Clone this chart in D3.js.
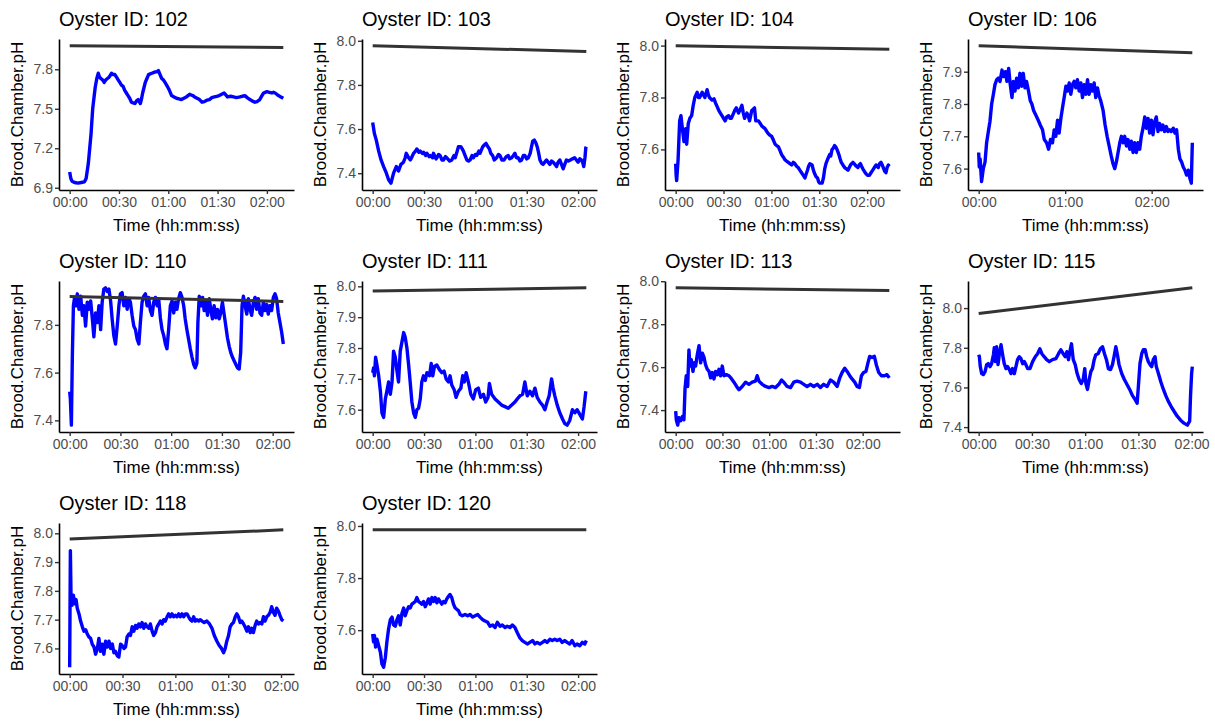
<!DOCTYPE html>
<html>
<head>
<meta charset="utf-8">
<script src="https://cdn.jsdelivr.net/npm/d3@7"></script>
<style>
  body { margin: 0; background: #fff; }
  text { font-family: "Liberation Sans", Arial, sans-serif; }
</style>
</head>
<body>
<svg id="chart" width="1215" height="722"></svg>
<script>
// Brood chamber pH per oyster: [elapsed minutes, pH]
const ph102 = [[0,7.02],[0.7,6.97],[1.4,6.95],[3,6.94],[5,6.935],[7,6.94],[9,6.945],[10,6.97],[11.3,7.08],[12.2,7.2],[13,7.31],[14,7.5],[15.5,7.66],[16.5,7.73],[17.4,7.77],[18.2,7.74],[19,7.73],[20,7.72],[21,7.70],[22,7.72],[23,7.73],[24,7.74],[25.5,7.77],[26.5,7.76],[27.5,7.76],[28.5,7.74],[29.5,7.72],[30.5,7.70],[31.5,7.68],[32.5,7.67],[33.5,7.64],[34.5,7.62],[35.5,7.60],[36.5,7.58],[37.6,7.55],[38.6,7.545],[39.7,7.54],[40.7,7.56],[41.7,7.57],[42.5,7.55],[43,7.54],[43.8,7.58],[44.4,7.62],[45.2,7.66],[46,7.70],[47,7.73],[48,7.76],[49,7.765],[50,7.77],[51,7.775],[52,7.78],[53,7.78],[54,7.79],[55,7.76],[56,7.73],[57,7.72],[58,7.70],[59,7.68],[60.3,7.65],[61,7.63],[62,7.60],[63.5,7.59],[65,7.58],[66.5,7.575],[68,7.57],[69.5,7.58],[71,7.59],[72,7.60],[73,7.61],[74,7.605],[75,7.60],[76,7.59],[77.5,7.58],[79,7.57],[80.5,7.55],[82,7.555],[83.5,7.565],[85,7.57],[86.5,7.585],[88,7.59],[89.5,7.595],[91,7.60],[92.5,7.61],[94,7.62],[95,7.605],[96,7.59],[98,7.595],[99.7,7.59],[101.5,7.585],[103.6,7.59],[105,7.595],[106.6,7.60],[108,7.585],[109.7,7.57],[111,7.56],[112.7,7.55],[114,7.555],[115.7,7.57],[117,7.60],[118,7.62],[119,7.625],[120,7.63],[121.5,7.625],[123,7.62],[124,7.625],[125,7.62],[126,7.61],[127,7.60],[128.5,7.59],[130,7.58]];
const ph103 = [[0,7.63],[1,7.58],[2.1,7.55],[3.5,7.50],[4.9,7.46],[6.4,7.43],[8,7.40],[9.3,7.37],[10.7,7.355],[11.5,7.38],[12.2,7.40],[13.8,7.43],[15.1,7.41],[16.5,7.44],[18,7.45],[19,7.47],[19.6,7.49],[21,7.47],[22,7.46],[23,7.475],[23.9,7.49],[25,7.50],[25.8,7.51],[27,7.495],[27.8,7.50],[29,7.49],[29.7,7.495],[31,7.48],[31.7,7.49],[33,7.475],[33.6,7.48],[35,7.47],[35.5,7.49],[37,7.465],[37.5,7.47],[38.5,7.485],[39.4,7.48],[40.5,7.46],[41.4,7.46],[42.5,7.475],[43.3,7.47],[45,7.455],[46.2,7.46],[47.5,7.48],[48.2,7.47],[49,7.49],[50.1,7.52],[51.5,7.52],[52.3,7.51],[53,7.50],[54,7.48],[55,7.46],[56,7.455],[56.9,7.46],[58,7.48],[58.8,7.47],[60,7.485],[60.8,7.48],[62,7.50],[62.7,7.49],[64.3,7.52],[65.5,7.53],[66.2,7.535],[67.3,7.52],[68.2,7.51],[69,7.49],[70.1,7.48],[71,7.46],[72.4,7.47],[73.5,7.485],[74.4,7.48],[75.5,7.46],[76.7,7.46],[78,7.475],[79.2,7.48],[80,7.465],[81.2,7.47],[82.2,7.48],[83.1,7.49],[84,7.47],[85,7.47],[86,7.455],[87,7.46],[88,7.48],[88.9,7.48],[90,7.465],[90.9,7.47],[92,7.49],[92.8,7.52],[93.5,7.545],[94.4,7.55],[95.2,7.54],[96.1,7.52],[97,7.49],[97.7,7.46],[98.7,7.445],[99.6,7.44],[100.5,7.45],[101.6,7.46],[102.5,7.45],[103.5,7.44],[104.5,7.455],[105.4,7.45],[106.5,7.44],[107.4,7.43],[108.3,7.45],[109.3,7.46],[110.3,7.44],[111.3,7.42],[112.2,7.44],[113.2,7.46],[114.3,7.455],[115.5,7.46],[116.7,7.465],[118,7.47],[119,7.46],[120,7.45],[121,7.465],[121.9,7.46],[122.6,7.45],[123.3,7.43],[124,7.47],[124.5,7.515],[124.8,7.52]];
const ph104 = [[0,7.545],[0.3,7.50],[0.6,7.48],[1.5,7.56],[2.5,7.71],[3.3,7.73],[4.2,7.68],[5.2,7.63],[5.8,7.65],[6.2,7.68],[6.9,7.62],[7.9,7.70],[8.9,7.72],[10,7.73],[11,7.77],[12,7.80],[13.5,7.82],[14.3,7.80],[15,7.80],[15.8,7.81],[16.6,7.82],[17.5,7.81],[18.3,7.80],[19,7.815],[19.7,7.83],[20.5,7.81],[21.2,7.80],[22.8,7.79],[24,7.795],[24.9,7.78],[26,7.765],[27,7.75],[28,7.74],[29,7.73],[30,7.72],[31,7.71],[32,7.725],[33.2,7.73],[34,7.72],[34.9,7.72],[36.3,7.74],[37,7.75],[38,7.76],[39.4,7.74],[40.5,7.755],[41.5,7.77],[42.4,7.74],[43.2,7.72],[44.6,7.74],[45.5,7.73],[46.3,7.71],[47.7,7.75],[48.6,7.755],[49.4,7.76],[50.2,7.71],[51.9,7.71],[53,7.70],[54,7.69],[55,7.685],[56,7.68],[57,7.67],[58.1,7.66],[59,7.655],[60.2,7.65],[61.3,7.635],[62.3,7.62],[63.3,7.615],[64.4,7.61],[65.4,7.595],[66.4,7.58],[67.5,7.57],[68.5,7.56],[69.5,7.555],[70.6,7.55],[71.6,7.545],[72.7,7.54],[73.7,7.55],[74.7,7.545],[75.8,7.535],[76.8,7.53],[77.8,7.52],[78.9,7.51],[80,7.50],[81,7.49],[81.8,7.505],[82.6,7.52],[83.3,7.535],[84.1,7.545],[85.5,7.54],[86.3,7.52],[87.2,7.505],[88,7.495],[88.9,7.49],[89.6,7.475],[90.3,7.47],[91.8,7.47],[92.6,7.49],[93.4,7.525],[94.2,7.545],[95.1,7.56],[96.5,7.58],[97.2,7.575],[98,7.60],[98.8,7.605],[99.6,7.615],[100.3,7.61],[101.1,7.60],[102.3,7.58],[103,7.565],[103.8,7.55],[104.8,7.54],[105.9,7.53],[107,7.525],[108,7.52],[108.8,7.53],[109.6,7.54],[110.3,7.545],[111.1,7.55],[112.5,7.54],[113.3,7.535],[114.2,7.53],[115,7.54],[115.8,7.545],[116.5,7.535],[117.3,7.525],[118.3,7.515],[119.4,7.505],[120.4,7.50],[121.4,7.50],[122.4,7.51],[123.5,7.52],[124.5,7.53],[125.6,7.54],[126.3,7.535],[127,7.53],[127.8,7.545],[128.7,7.55],[129.5,7.54],[130.4,7.525],[131.1,7.515],[131.8,7.51],[132.5,7.53],[133.3,7.54],[133.9,7.535]];
const ph106 = [[0,7.65],[0.4,7.605],[1,7.63],[2,7.56],[3.2,7.60],[4.4,7.62],[5.5,7.68],[6.9,7.72],[7.8,7.745],[9,7.80],[10.2,7.83],[11.3,7.86],[12.5,7.875],[13.6,7.88],[14.8,7.87],[16.2,7.905],[17.3,7.885],[18.5,7.90],[19.6,7.87],[20.8,7.91],[21.9,7.86],[23.1,7.82],[24,7.87],[25.2,7.84],[26.3,7.88],[27.5,7.85],[28.6,7.895],[29.8,7.855],[30.9,7.895],[32.1,7.85],[33.2,7.87],[34.6,7.84],[35.8,7.81],[36.9,7.80],[38.1,7.78],[39.7,7.765],[41.3,7.75],[42.7,7.735],[44.3,7.72],[45.5,7.69],[47.1,7.68],[48.5,7.66],[49.8,7.69],[51.2,7.68],[52.4,7.72],[53.5,7.70],[54.7,7.75],[55.8,7.71],[57,7.755],[58.2,7.79],[59.3,7.82],[60.5,7.855],[61.6,7.84],[62.8,7.865],[63.9,7.83],[65.1,7.86],[66.2,7.87],[67.4,7.85],[68.5,7.875],[69.7,7.84],[70.9,7.865],[72,7.82],[73.2,7.86],[74.3,7.83],[75.5,7.875],[76.6,7.83],[77.8,7.86],[78.9,7.84],[80.1,7.865],[81.2,7.82],[82.4,7.85],[83.5,7.825],[84.7,7.81],[86.3,7.78],[87.7,7.735],[89.1,7.70],[90.5,7.67],[91.9,7.64],[93.2,7.615],[94.4,7.60],[95.5,7.62],[96.7,7.65],[97.9,7.68],[99,7.70],[100.2,7.68],[101.3,7.70],[102.5,7.67],[103.6,7.69],[104.8,7.66],[105.9,7.685],[107.1,7.65],[108.2,7.68],[109.4,7.65],[110.5,7.68],[111.7,7.66],[112.8,7.70],[114,7.725],[115.2,7.76],[116.3,7.725],[117.5,7.755],[118.6,7.71],[119.8,7.75],[120.9,7.705],[122.1,7.745],[123.2,7.76],[124.4,7.715],[125.5,7.74],[126.7,7.72],[127.8,7.735],[129,7.715],[130.2,7.73],[131.3,7.715],[132.5,7.72],[133.6,7.715],[135,7.725],[136.2,7.71],[137.3,7.72],[138.5,7.66],[139.6,7.63],[140.8,7.62],[141.9,7.605],[143.1,7.595],[144.2,7.58],[145.4,7.595],[146.5,7.57],[147.5,7.555],[148.2,7.68]];
const ph110 = [[0,7.52],[0.4,7.49],[1,7.38],[1.6,7.68],[2.2,7.88],[2.9,7.915],[3.7,7.88],[4.5,7.93],[5.5,7.865],[6.5,7.92],[7.5,7.84],[8.4,7.88],[9.4,7.795],[10.4,7.895],[11.4,7.865],[12.4,7.90],[13.4,7.825],[14.3,7.75],[15.3,7.85],[16.3,7.81],[17.3,7.88],[18.3,7.78],[19.2,7.895],[20.2,7.95],[21.2,7.955],[22.2,7.94],[23.2,7.95],[24.2,7.90],[25.1,7.825],[26.1,7.755],[27.1,7.72],[28.1,7.795],[29.1,7.88],[30,7.93],[31,7.935],[32,7.88],[33,7.915],[34,7.865],[35,7.91],[35.9,7.895],[36.9,7.84],[37.9,7.795],[38.9,7.78],[39.9,7.74],[40.9,7.72],[41.8,7.81],[42.8,7.895],[43.8,7.92],[44.8,7.93],[45.8,7.88],[46.7,7.915],[47.7,7.86],[48.7,7.84],[49.7,7.895],[50.7,7.915],[51.7,7.88],[52.6,7.91],[53.6,7.83],[54.6,7.78],[55.6,7.755],[56.6,7.72],[57.5,7.70],[58.5,7.78],[59.5,7.88],[60.5,7.90],[61.5,7.85],[62.5,7.895],[63.4,7.865],[64.4,7.91],[65.4,7.935],[66.4,7.915],[67.4,7.88],[68.3,7.825],[69.3,7.78],[70.3,7.74],[71.3,7.70],[72.3,7.665],[73.3,7.635],[74.2,7.62],[75.2,7.64],[75.8,7.81],[76.6,7.92],[77.6,7.88],[78.6,7.915],[79.5,7.86],[80.5,7.895],[81.5,7.84],[82.5,7.91],[83.5,7.86],[84.4,7.825],[85.4,7.88],[86.4,7.83],[87.4,7.865],[88.4,7.825],[89.3,7.85],[90.3,7.895],[91.3,7.845],[92.3,7.795],[93.3,7.745],[94.3,7.71],[95.2,7.685],[96.2,7.665],[97.2,7.65],[98.2,7.635],[99.2,7.62],[100.2,7.615],[101.1,7.685],[101.9,7.88],[102.7,7.92],[103.7,7.88],[104.7,7.845],[105.6,7.91],[106.6,7.865],[107.6,7.84],[108.6,7.895],[109.6,7.915],[110.5,7.865],[111.5,7.91],[112.5,7.85],[113.5,7.84],[114.5,7.895],[115.5,7.86],[116.5,7.885],[117.4,7.845],[118.4,7.88],[119.4,7.86],[120.4,7.915],[121.4,7.93],[122.3,7.91],[123.3,7.85],[124.3,7.81],[125.3,7.77],[126.3,7.72]];
const ph111 = [[0,7.72],[0.5,7.735],[1,7.71],[1.7,7.77],[2.5,7.745],[3.5,7.71],[4.5,7.66],[5.4,7.59],[6.4,7.575],[7.4,7.635],[8.3,7.66],[9.3,7.69],[10.3,7.65],[11.3,7.69],[12.2,7.79],[13.2,7.77],[14.2,7.725],[15.1,7.69],[16.1,7.79],[17.1,7.82],[18.1,7.85],[19,7.835],[20,7.80],[21,7.745],[21.9,7.69],[22.9,7.625],[23.9,7.59],[24.9,7.575],[25.8,7.60],[26.8,7.605],[27.8,7.635],[28.7,7.69],[29.7,7.71],[30.7,7.695],[31.7,7.72],[33.2,7.71],[34.2,7.75],[35.1,7.71],[36.1,7.74],[37.5,7.745],[39,7.73],[40.4,7.72],[41.7,7.725],[42.9,7.70],[44.3,7.69],[45.2,7.71],[46.2,7.68],[47.6,7.665],[48.7,7.64],[50.1,7.66],[51.5,7.67],[52.6,7.71],[53.6,7.69],[54.6,7.72],[55.9,7.69],[57.3,7.65],[58.8,7.635],[60.2,7.665],[61.7,7.67],[63.1,7.64],[64.7,7.65],[66,7.625],[67.4,7.64],[68.2,7.685],[69.5,7.65],[71.5,7.635],[73.4,7.625],[75.3,7.615],[77.3,7.61],[79.2,7.605],[81.2,7.615],[83.1,7.625],[84.5,7.635],[86,7.645],[87.6,7.65],[88.9,7.69],[90.3,7.645],[91.8,7.66],[93.4,7.645],[94.8,7.67],[96.1,7.64],[97.7,7.625],[99.2,7.615],[100.6,7.60],[101.9,7.625],[103.1,7.645],[104.5,7.70],[105.4,7.67],[106.4,7.645],[107.8,7.615],[109.3,7.59],[110.9,7.57],[112.2,7.555],[113.6,7.55],[115.1,7.565],[116.7,7.60],[118.1,7.59],[119.4,7.60],[121,7.585],[122.5,7.57],[123.5,7.61],[124.5,7.66]];
const ph113 = [[0,7.395],[0.4,7.355],[1.3,7.33],[2.1,7.365],[3.2,7.35],[4.3,7.37],[5.3,7.355],[6,7.50],[6.8,7.56],[7.7,7.51],[8.5,7.68],[9.2,7.605],[10,7.635],[11.1,7.58],[12,7.62],[12.8,7.605],[13.9,7.66],[15,7.70],[16,7.62],[17.1,7.665],[18.2,7.645],[19.2,7.61],[20.3,7.59],[21.4,7.58],[22.4,7.55],[23.5,7.575],[24.6,7.545],[25.6,7.58],[26.7,7.565],[27.8,7.59],[28.8,7.56],[29.9,7.605],[31,7.56],[32.5,7.565],[34.2,7.56],[35.9,7.545],[37.4,7.53],[39.1,7.51],[40.6,7.495],[42.7,7.51],[44.8,7.53],[47,7.52],[49.1,7.53],[51.2,7.535],[52.3,7.56],[53.4,7.535],[55.5,7.52],[57.7,7.51],[59.8,7.505],[61.9,7.51],[64.1,7.505],[66.2,7.52],[67.9,7.54],[69.4,7.53],[71.5,7.51],[73.7,7.505],[75.8,7.53],[77.9,7.535],[80.1,7.53],[82.2,7.52],[84.3,7.51],[86.5,7.52],[88.6,7.51],[90.8,7.52],[92.9,7.505],[95,7.52],[97.2,7.51],[99.3,7.54],[101.4,7.53],[103.6,7.51],[105.3,7.55],[106.8,7.575],[108.5,7.595],[110,7.58],[111.7,7.56],[113.2,7.545],[114.9,7.53],[116.4,7.51],[117.9,7.505],[119.2,7.56],[120.6,7.575],[122.1,7.58],[123.4,7.62],[124.5,7.65],[126,7.645],[127.5,7.65],[128.8,7.61],[130.3,7.575],[132,7.56],[134.1,7.56],[135.6,7.565],[137.1,7.55]];
const ph115 = [[0,7.765],[0.4,7.755],[0.9,7.705],[1.7,7.67],[2.6,7.665],[3.6,7.68],[4.5,7.715],[5.4,7.72],[6.4,7.705],[7.3,7.72],[8.3,7.765],[8.8,7.80],[9.4,7.73],[10.1,7.805],[10.9,7.715],[11.6,7.765],[12.6,7.815],[13.5,7.765],[14.4,7.72],[15.4,7.695],[16.3,7.705],[17.3,7.69],[18.2,7.67],[19.1,7.695],[20.1,7.67],[21,7.705],[21.9,7.74],[22.9,7.755],[23.8,7.745],[24.8,7.72],[25.7,7.73],[26.6,7.715],[27.6,7.695],[28.9,7.695],[30.4,7.73],[31.9,7.755],[33.2,7.77],[34.5,7.795],[35.6,7.77],[36.9,7.755],[38.3,7.74],[39.8,7.73],[41.6,7.74],[43.5,7.745],[45,7.77],[46.3,7.79],[47.6,7.77],[48.8,7.755],[49.7,7.78],[50.6,7.74],[51.6,7.79],[52.3,7.82],[53.3,7.74],[54.4,7.715],[55.5,7.67],[56.6,7.64],[57.8,7.62],[58.9,7.64],[59.8,7.695],[60.4,7.62],[61.3,7.59],[62.3,7.64],[63.2,7.68],[64.1,7.695],[65.1,7.74],[66,7.765],[67.3,7.77],[68.6,7.795],[69.8,7.805],[70.9,7.77],[72,7.74],[73.1,7.695],[74.3,7.69],[75.4,7.715],[76.3,7.755],[77.3,7.805],[78.2,7.765],[79.1,7.715],[80.6,7.67],[82.1,7.64],[83.6,7.615],[85.1,7.59],[86.6,7.56],[88.1,7.54],[89.3,7.52],[90,7.605],[90.9,7.72],[91.9,7.77],[92.8,7.79],[93.8,7.79],[94.7,7.755],[95.6,7.73],[96.6,7.715],[97.5,7.705],[98.4,7.74],[99.4,7.755],[100.1,7.705],[101.3,7.67],[102.6,7.63],[103.9,7.595],[105.4,7.56],[106.9,7.53],[108.4,7.505],[110.1,7.48],[111.9,7.455],[113.8,7.435],[115.7,7.42],[117.6,7.41],[118.9,7.43],[119.4,7.56],[120,7.67],[120.4,7.705]];
const ph118 = [[0,7.535],[0.2,7.745],[0.4,7.94],[0.8,7.765],[1.3,7.75],[2.1,7.785],[2.8,7.755],[3.6,7.77],[4.3,7.74],[5.3,7.72],[6.2,7.695],[7.2,7.675],[8.1,7.66],[9.1,7.665],[10,7.65],[10.9,7.64],[11.9,7.635],[12.8,7.615],[13.8,7.605],[14.7,7.58],[15.7,7.60],[16.6,7.635],[17.5,7.59],[18.5,7.615],[19.4,7.58],[20.4,7.625],[21.3,7.605],[22.3,7.625],[23.2,7.60],[24.2,7.615],[25.1,7.585],[26,7.59],[27,7.575],[27.9,7.57],[28.9,7.615],[29.8,7.61],[30.8,7.60],[31.7,7.605],[32.6,7.64],[33.6,7.65],[34.5,7.645],[35.5,7.675],[36.4,7.66],[37.4,7.68],[38.3,7.67],[39.2,7.685],[40.2,7.675],[41.1,7.69],[42.1,7.67],[43,7.685],[44,7.675],[44.9,7.67],[45.8,7.685],[46.8,7.66],[47.7,7.645],[48.7,7.655],[49.6,7.675],[50.6,7.685],[51.5,7.695],[52.5,7.685],[53.4,7.70],[54.3,7.695],[55.3,7.71],[56.2,7.72],[57.2,7.71],[58.1,7.72],[59.1,7.71],[60,7.715],[60.9,7.71],[61.9,7.72],[62.8,7.71],[63.8,7.72],[64.7,7.71],[65.7,7.72],[66.6,7.72],[67.5,7.71],[68.5,7.70],[69.4,7.695],[70.4,7.71],[71.3,7.695],[72.3,7.70],[73.2,7.695],[74.2,7.70],[75.1,7.695],[76.4,7.69],[77.9,7.695],[79.4,7.685],[80.8,7.67],[82.1,7.645],[83.6,7.625],[84.9,7.61],[86.2,7.60],[87.4,7.585],[88.3,7.60],[89.2,7.625],[90.2,7.645],[91.1,7.675],[92.1,7.685],[93,7.69],[94,7.71],[94.9,7.72],[95.8,7.71],[96.8,7.69],[97.7,7.695],[98.7,7.685],[99.6,7.675],[100.6,7.66],[101.5,7.675],[102.5,7.655],[103.4,7.67],[104.3,7.655],[105.3,7.68],[106.2,7.695],[107.2,7.685],[108.1,7.69],[109.1,7.685],[110,7.71],[110.9,7.695],[111.9,7.71],[112.8,7.715],[113.8,7.725],[114.7,7.745],[115.7,7.725],[116.6,7.715],[117.5,7.74],[118.5,7.73],[119.4,7.715],[120.4,7.70],[121.3,7.695]];
const ph120 = [[0,7.585],[0.5,7.555],[1,7.58],[1.7,7.535],[2.5,7.565],[3.5,7.54],[4.5,7.515],[5.4,7.47],[6.4,7.458],[7.4,7.495],[8.3,7.555],[9.3,7.605],[10.3,7.64],[11.3,7.65],[12.2,7.62],[13.2,7.615],[14.2,7.64],[15.1,7.655],[16.1,7.62],[17.1,7.665],[18.1,7.685],[19,7.655],[20,7.675],[21,7.69],[21.9,7.685],[22.9,7.70],[23.9,7.705],[24.9,7.71],[25.8,7.725],[26.8,7.71],[27.8,7.705],[28.7,7.70],[29.7,7.71],[30.7,7.69],[31.7,7.705],[32.6,7.72],[33.6,7.70],[34.6,7.725],[35.5,7.71],[36.5,7.725],[37.5,7.705],[38.4,7.72],[39.4,7.71],[40.4,7.70],[41.4,7.71],[42.3,7.705],[43.3,7.72],[44.3,7.73],[45.2,7.737],[46.2,7.725],[47.2,7.70],[48.2,7.685],[49.1,7.68],[50.1,7.675],[51.1,7.66],[52.4,7.655],[54,7.66],[55.5,7.655],[56.9,7.66],[58.4,7.65],[59.8,7.655],[61.4,7.66],[62.7,7.65],[64.3,7.64],[65.6,7.635],[67.2,7.63],[68.5,7.615],[70.1,7.62],[71.5,7.61],[72.8,7.63],[74.4,7.615],[75.7,7.62],[77.3,7.61],[78.6,7.615],[80.2,7.61],[81.6,7.62],[83.1,7.61],[84.5,7.59],[86,7.57],[87.4,7.56],[88.9,7.553],[90.5,7.547],[91.8,7.553],[93.4,7.56],[94.8,7.547],[96.1,7.553],[97.7,7.547],[99.2,7.553],[100.6,7.56],[101.9,7.553],[103.5,7.565],[104.9,7.56],[106.4,7.565],[107.8,7.56],[109.3,7.565],[110.7,7.553],[112.2,7.56],[113.6,7.553],[115.1,7.547],[116.5,7.56],[118.1,7.54],[119.4,7.547],[121,7.54],[122.5,7.553],[123.9,7.547],[124.8,7.56]];

// Ambient (tank) pH over the same run: [elapsed minutes, pH]
const amb102 = [[0,7.978],[130,7.965]];
const amb103 = [[0,7.977],[124.8,7.952]];
const amb104 = [[0,7.999],[133.9,7.986]];
const amb106 = [[0,7.980],[148.2,7.959]];
const amb110 = [[0,7.919],[126.3,7.898]];
const amb111 = [[0,7.985],[124.8,7.995]];
const amb113 = [[0,7.969],[137.1,7.957]];
const amb115 = [[0,7.973],[120.4,8.102]];
const amb118 = [[0,7.980],[121.3,8.012]];
const amb120 = [[0,7.985],[124.8,7.985]];

// Panel identifiers and axis breaks
const oysterIds = ["102","103","104","106","110","111","113","115","118","120"];
const broodSeries = [ph102, ph103, ph104, ph106, ph110, ph111, ph113, ph115, ph118, ph120];
const ambientSeries = [amb102, amb103, amb104, amb106, amb110, amb111, amb113, amb115, amb118, amb120];
const yBreaks = [
  [6.9, 7.2, 7.5, 7.8],
  [7.4, 7.6, 7.8, 8.0],
  [7.6, 7.8, 8.0],
  [7.6, 7.7, 7.8, 7.9],
  [7.4, 7.6, 7.8],
  [7.6, 7.7, 7.8, 7.9, 8.0],
  [7.4, 7.6, 7.8, 8.0],
  [7.4, 7.6, 7.8, 8.0],
  [7.6, 7.7, 7.8, 7.9, 8.0],
  [7.6, 7.8, 8.0]
];
const halfHourBreaks = [0, 30, 60, 90, 120];
const hourBreaks = [0, 60, 120];
const xBreaks = [halfHourBreaks, halfHourBreaks, halfHourBreaks, hourBreaks, halfHourBreaks,
                 halfHourBreaks, halfHourBreaks, halfHourBreaks, halfHourBreaks, halfHourBreaks];

// Grid geometry
const nCols = 4;
const panelW = 235, panelH = 151;
const left0 = 59, top0 = 39, stepX = 303, stepY = 242;

const svg = d3.select("#chart");
svg.append("rect").attr("width", 1215).attr("height", 722).attr("fill", "#fff");

const fmtTime = m => {
  const h = Math.floor(m / 60), mm = Math.round(m % 60);
  return String(h).padStart(2, "0") + ":" + String(mm).padStart(2, "0");
};

oysterIds.forEach((id, i) => {
  const col = i % nCols, row = Math.floor(i / nCols);
  const g = svg.append("g")
    .attr("transform", `translate(${left0 + col * stepX},${top0 + row * stepY})`);

  const brood = broodSeries[i], ambient = ambientSeries[i];
  const all = brood.concat(ambient);

  const tMax = d3.max(all, d => d[0]);
  const x = d3.scaleLinear().domain([-0.05 * tMax, 1.05 * tMax]).range([0, panelW]);
  const [lo, hi] = d3.extent(all, d => d[1]);
  const pad = (hi - lo) * 0.05;
  const y = d3.scaleLinear().domain([lo - pad, hi + pad]).range([panelH, 0]);

  const line = d3.line().x(d => x(d[0])).y(d => y(d[1]));

  g.append("path").datum(brood)
    .attr("d", line).attr("fill", "none")
    .attr("stroke", "#0000FF").attr("stroke-width", 3.4)
    .attr("stroke-linejoin", "round").attr("stroke-linecap", "butt");

  g.append("path").datum(ambient)
    .attr("d", line).attr("fill", "none")
    .attr("stroke", "#333333").attr("stroke-width", 3);

  // axes
  const xAxis = g.append("g").attr("transform", `translate(0,${panelH})`)
    .call(d3.axisBottom(x).tickValues(xBreaks[i]).tickFormat(fmtTime)
      .tickSize(4).tickSizeOuter(0).tickPadding(3));
  const yAxis = g.append("g")
    .call(d3.axisLeft(y).tickValues(yBreaks[i]).tickFormat(d3.format(".1f"))
      .tickSize(4).tickSizeOuter(0).tickPadding(2));

  [xAxis, yAxis].forEach(a => {
    a.select(".domain").attr("stroke", "#000").attr("stroke-width", 1.6);
    a.selectAll(".tick line").attr("stroke", "#333333").attr("stroke-width", 1.4);
    a.selectAll(".tick text").attr("fill", "#4D4D4D")
      .style("font-size", "14px").style("font-family", "'Liberation Sans', Arial, sans-serif");
  });

  // titles
  g.append("text").attr("x", 0).attr("y", -13)
    .style("font-size", "20px").attr("fill", "#000")
    .text("Oyster ID: " + id);

  g.append("text").attr("x", panelW / 2).attr("y", panelH + 41)
    .attr("text-anchor", "middle").style("font-size", "17px").attr("fill", "#000")
    .text("Time (hh:mm:ss)");

  g.append("text")
    .attr("transform", `translate(-36,${panelH / 2}) rotate(-90)`)
    .attr("text-anchor", "middle").style("font-size", "17px").attr("fill", "#000")
    .text("Brood.Chamber.pH");
});
</script>
</body>
</html>
